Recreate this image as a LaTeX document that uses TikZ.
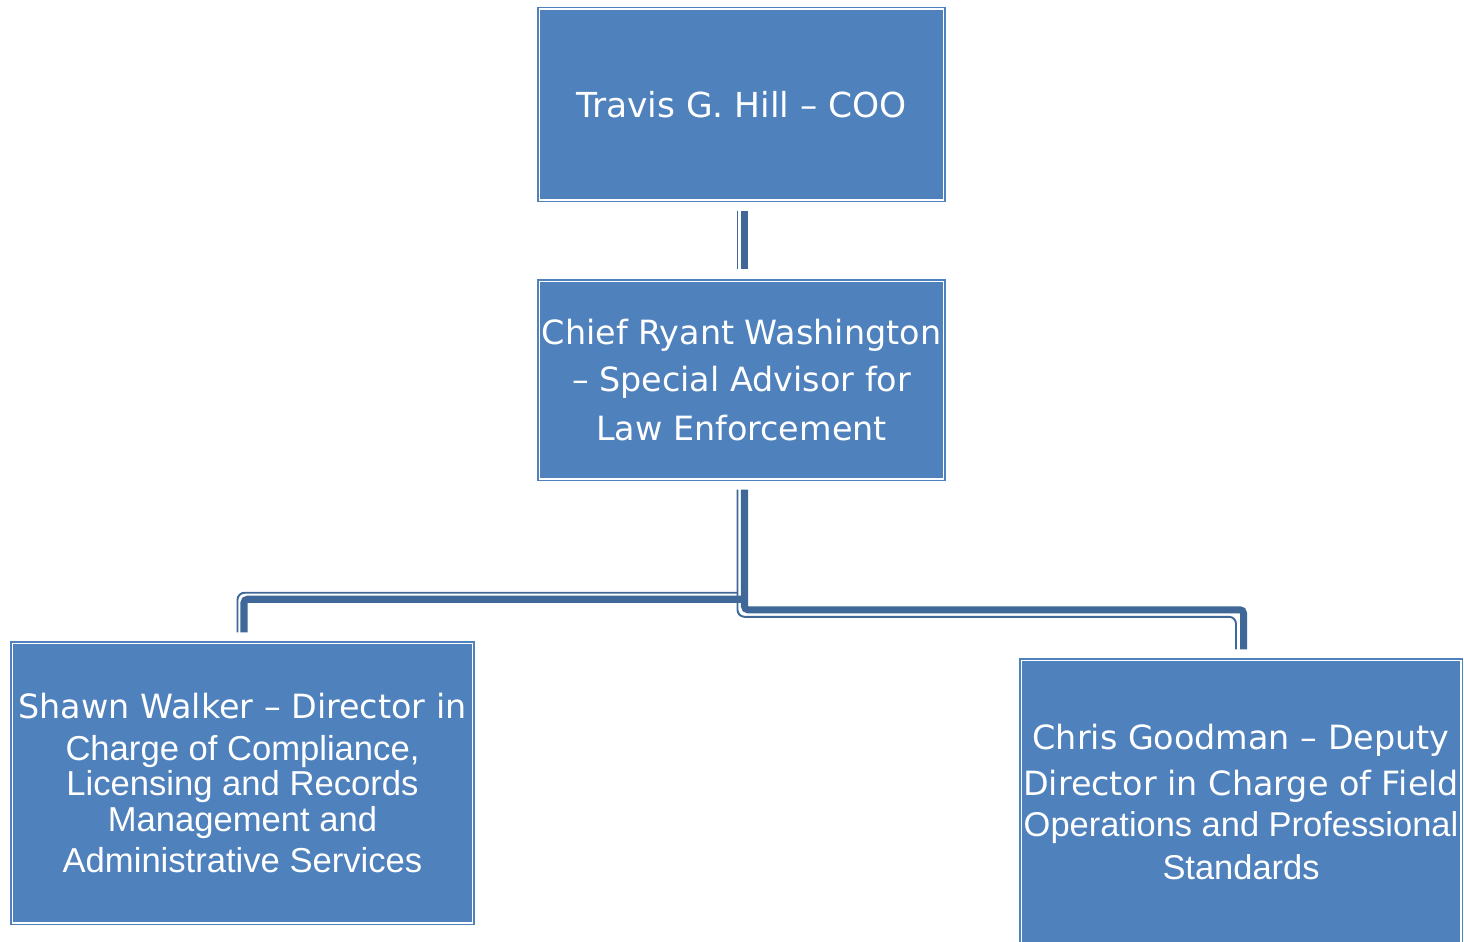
\documentclass[tikz,border=0pt]{standalone}
\usepackage{fontspec}
\setmainfont{Liberation Sans}
\newfontfamily\lucida{DejaVu Sans}
\usetikzlibrary{calc}

\definecolor{boxblue}{HTML}{4F81BD}
\definecolor{linkblue}{HTML}{3F6898}

\tikzset{
  orgbox/.style={draw=boxblue, fill=boxblue, double=white, double distance=0.6pt,
    line width=0.85pt, inner sep=0pt, align=center, text=white},
  trunk/.style={draw=linkblue, line width=4pt, rounded corners=2pt},
  edge/.style={draw=linkblue, line width=1.1pt, rounded corners=4pt},
}

\begin{document}
\begin{tikzpicture}[x=0.02cm, y=-0.02cm]
\useasboundingbox (0,0) rectangle (1464,941);

% boxes
\node[orgbox, minimum width=8.1cm, minimum height=3.82cm,
  font=\fontsize{19.6}{27.2}\lucida] (coo) at (741.5,104.5)
  {Travis G. Hill – COO};
\node[orgbox, minimum width=8.1cm, minimum height=3.96cm,
  font=\fontsize{19}{27.2}\lucida] (advisor) at (741.5,380)
  {Chief Ryant Washington\\[-0.6pt] – Special Advisor for\\[0.6pt] Law Enforcement};
\node[orgbox, minimum width=9.22cm, minimum height=5.6cm,
  font=\fontsize{19.7}{20}\selectfont] (walker) at (242.5,783)
  {{\lucida\fontsize{19}{20}\selectfont Shawn Walker – Director in}\\[3.8pt]
   Charge of Compliance,\\[-0.2pt] Licensing and Records\\[1pt]
   Management and\\[3.2pt] Administrative Services};
\node[orgbox, minimum width=8.8cm, minimum height=5.68cm,
  font=\fontsize{19.6}{20}\selectfont] (deputy) at (1241,802)
  {{\lucida\fontsize{19}{20}\selectfont Chris Goodman – Deputy}\\[6.1pt]
   {\lucida\fontsize{19}{20}\selectfont Director in Charge of Field}\\[3.8pt]
   Operations and Professional\\[4.4pt] Standards};

% connectors
\draw[trunk] ($(coo.south)+(3,10)$) -- ($(advisor.north)+(3,-11)$);
\draw[edge] ($(coo.south)+(-4,10)$) -- ($(advisor.north)+(-4,-11)$);

\draw[trunk] ($(advisor.south)+(3,10)$) |- ($(deputy.north)+(2.5,-49.5)$)
  -- ($(deputy.north)+(2.5,-10)$);
\draw[edge] ($(advisor.south)+(-4,10)$) |- ($(deputy.north)+(-5,-42.5)$)
  -- ($(deputy.north)+(-5,-10)$);

\draw[trunk] ($(advisor.south)+(3,119.5)$) -| ($(walker.north)+(1.5,-10)$);
\draw[edge] ($(advisor.south)+(-4,113)$) -| ($(walker.north)+(-5,-10)$);

\end{tikzpicture}
\end{document}
